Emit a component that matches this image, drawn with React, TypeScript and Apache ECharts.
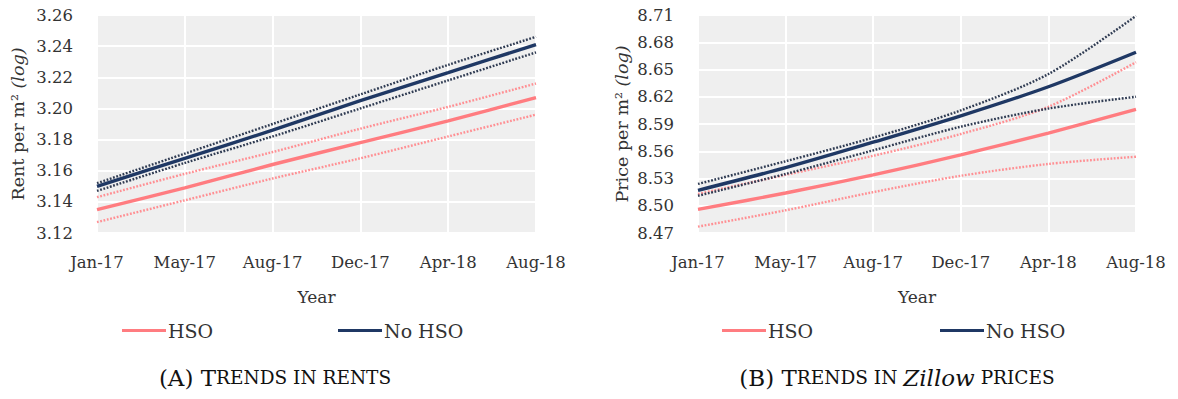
import React, { useEffect, useRef } from "react";
import * as echarts from "echarts";

// Tick labels shared by both panels
const months = ["Jan-17", "May-17", "Aug-17", "Dec-17", "Apr-18", "Aug-18"];

// Panel A: log rent per m²
const rentHso = [3.135, 3.149, 3.164, 3.178, 3.192, 3.207];
const rentHsoUpper = [3.143, 3.158, 3.172, 3.187, 3.201, 3.216];
const rentHsoLower = [3.127, 3.141, 3.155, 3.168, 3.182, 3.196];
const rentNoHso = [3.150, 3.168, 3.186, 3.205, 3.223, 3.241];
const rentNoHsoUpper = [3.152, 3.171, 3.190, 3.209, 3.228, 3.246];
const rentNoHsoLower = [3.147, 3.165, 3.182, 3.200, 3.218, 3.236];

// Panel B: log Zillow price per m²
const priceHso = [8.496, 8.514, 8.534, 8.556, 8.580, 8.606];
const priceHsoUpper = [8.513, 8.534, 8.555, 8.579, 8.609, 8.658];
const priceHsoLower = [8.477, 8.495, 8.515, 8.533, 8.546, 8.554];
const priceNoHso = [8.517, 8.542, 8.570, 8.599, 8.631, 8.669];
const priceNoHsoUpper = [8.524, 8.549, 8.575, 8.605, 8.645, 8.709];
const priceNoHsoLower = [8.511, 8.535, 8.561, 8.587, 8.607, 8.620];

const FONT = "'DejaVu Serif', 'Liberation Serif', serif";
const TEXT = "#333333";
const PINK = "#ff7c80";
const PINK_DOT = "#ff8f93";
const NAVY = "#1f3864";
const NAVY_DOT = "#2f3b52";
const DOT: number[] = [1.8, 1.6];

function lineSeries(
  name: string,
  data: number[],
  idx: number,
  color: string,
  dotted: boolean
) {
  return {
    name,
    type: "line",
    xAxisIndex: idx,
    yAxisIndex: idx,
    data,
    smooth: 0.3,
    symbol: "none",
    silent: true,
    lineStyle: {
      color,
      width: dotted ? 2.4 : 3.4,
      type: dotted ? DOT : "solid",
      cap: "butt",
    },
    itemStyle: { color },
  };
}

function xAxisFor(idx: number) {
  return {
    type: "category",
    gridIndex: idx,
    data: months,
    boundaryGap: false,
    name: "Year",
    nameLocation: "middle",
    nameGap: 55,
    nameTextStyle: { fontFamily: FONT, fontSize: 17, color: TEXT },
    axisLine: { show: false },
    axisTick: { show: false },
    axisLabel: {
      fontFamily: FONT,
      fontSize: 16.5,
      color: TEXT,
      margin: 21,
      interval: 0,
    },
    splitLine: { show: true, lineStyle: { color: "#ffffff", width: 2 } },
  };
}

export default function App() {
  const ref = useRef<HTMLDivElement>(null);

  useEffect(() => {
    if (!ref.current) return;
    const chart = echarts.init(ref.current, undefined, { renderer: "svg" });

    const yCommon = {
      type: "value",
      nameLocation: "middle",
      axisLine: { show: false },
      axisTick: { show: false },
      splitLine: { show: true, lineStyle: { color: "#ffffff", width: 2 } },
      axisLabel: {
        fontFamily: FONT,
        fontSize: 16.5,
        color: TEXT,
        margin: 24,
        formatter: (v: number) => v.toFixed(2),
      },
    };

    const nameRich = {
      a: { fontFamily: FONT, fontSize: 17.5, color: TEXT },
      b: { fontFamily: FONT, fontSize: 17.5, color: TEXT, fontStyle: "italic" },
    };

    const capRich = {
      p: { fontFamily: FONT, fontSize: 23, color: "#111111", fontWeight: "normal" },
      s: { fontFamily: FONT, fontSize: 18.5, color: "#111111", fontWeight: "normal" },
      i: {
        fontFamily: FONT,
        fontSize: 23,
        color: "#111111",
        fontStyle: "italic",
        fontWeight: "normal",
      },
    };

    const legendBase = {
      top: 316,
      icon: "rect",
      itemWidth: 44,
      itemHeight: 3,
      selectedMode: false,
      textStyle: {
        fontFamily: FONT,
        fontSize: 19,
        color: TEXT,
        padding: [0, 0, 0, -3],
      },
    };

    chart.setOption({
      animation: false,
      backgroundColor: "#ffffff",
      grid: [
        {
          left: 97,
          top: 15,
          width: 439,
          height: 218,
          show: true,
          backgroundColor: "#efefef",
          borderWidth: 0,
        },
        {
          left: 698,
          top: 15,
          width: 438,
          height: 218,
          show: true,
          backgroundColor: "#efefef",
          borderWidth: 0,
        },
      ],
      xAxis: [xAxisFor(0), xAxisFor(1)],
      yAxis: [
        {
          ...yCommon,
          gridIndex: 0,
          min: 3.12,
          max: 3.26,
          interval: 0.02,
          name: "{a|Rent per m² }{b|(log)}",
          nameGap: 70,
          nameTextStyle: { rich: nameRich },
        },
        {
          ...yCommon,
          gridIndex: 1,
          min: 8.47,
          max: 8.71,
          interval: 0.03,
          name: "{a|Price per m² }{b|(log)}",
          nameGap: 67,
          nameTextStyle: { rich: nameRich },
        },
      ],
      legend: [
        { ...legendBase, left: 117, data: ["HSO"] },
        { ...legendBase, left: 333, data: ["No HSO"] },
        { ...legendBase, left: 717, data: ["HSO"] },
        { ...legendBase, left: 935, data: ["No HSO"] },
      ],
      title: [
        {
          left: 270,
          top: 361,
          textAlign: "center",
          text: "{p|(A) T}{s|RENDS IN RENTS}",
          textStyle: { rich: capRich, fontWeight: "normal" },
        },
        {
          left: 892,
          top: 361,
          textAlign: "center",
          text: "{p|(B) T}{s|RENDS IN }{i|Zillow}{s| PRICES}",
          textStyle: { rich: capRich, fontWeight: "normal" },
        },
      ],
      series: [
        lineSeries("HSO upper", rentHsoUpper, 0, PINK_DOT, true),
        lineSeries("HSO lower", rentHsoLower, 0, PINK_DOT, true),
        lineSeries("No HSO upper", rentNoHsoUpper, 0, NAVY_DOT, true),
        lineSeries("No HSO lower", rentNoHsoLower, 0, NAVY_DOT, true),
        lineSeries("HSO", rentHso, 0, PINK, false),
        lineSeries("No HSO", rentNoHso, 0, NAVY, false),
        lineSeries("HSO upper", priceHsoUpper, 1, PINK_DOT, true),
        lineSeries("HSO lower", priceHsoLower, 1, PINK_DOT, true),
        lineSeries("No HSO upper", priceNoHsoUpper, 1, NAVY_DOT, true),
        lineSeries("No HSO lower", priceNoHsoLower, 1, NAVY_DOT, true),
        lineSeries("HSO", priceHso, 1, PINK, false),
        lineSeries("No HSO", priceNoHso, 1, NAVY, false),
      ],
    });

    return () => chart.dispose();
  }, []);

  return (
    <div
      ref={ref}
      style={{
        position: "fixed",
        left: 0,
        top: 0,
        width: 1178,
        height: 399,
        background: "#ffffff",
      }}
    />
  );
}
